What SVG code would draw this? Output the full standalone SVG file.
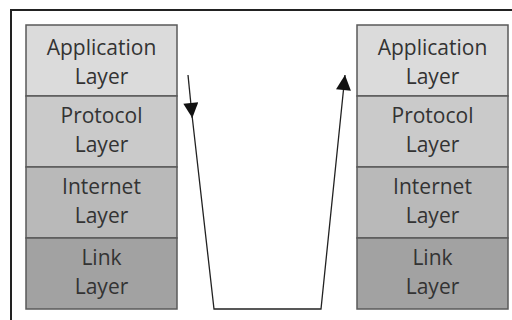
<svg xmlns="http://www.w3.org/2000/svg" width="512" height="320" viewBox="0 0 512 320">
<defs>
<style>
.box{stroke:#5a5a5a;stroke-width:1.5}
.app{fill:#dbdbdb}.proto{fill:#cacaca}.inet{fill:#b9b9b9}.link{fill:#a2a2a2}
text{font-family:"Open Sans",sans-serif;font-size:21px;fill:#333;text-anchor:middle}
.conn{fill:none;stroke:#222;stroke-width:1.3}
</style>
<marker id="ah" viewBox="0 0 10 10" refX="10" refY="5" markerWidth="16" markerHeight="15" markerUnits="userSpaceOnUse" orient="auto">
<path d="M0,0 L10,5 L0,10 z" fill="#111"/>
</marker>
</defs>
<rect width="512" height="320" fill="#ffffff"/>
<path d="M11,320 V10 H512" fill="none" stroke="#222" stroke-width="2"/>
<g id="left-stack">
<g id="l-app"><rect class="box app" x="26" y="25" width="151" height="71"/><text x="101.5" y="55">Application</text><text x="101.5" y="84">Layer</text></g>
<g id="l-proto"><rect class="box proto" x="26" y="96" width="151" height="71"/><text x="101.5" y="123">Protocol</text><text x="101.5" y="152">Layer</text></g>
<g id="l-inet"><rect class="box inet" x="26" y="167" width="151" height="71"/><text x="101.5" y="194">Internet</text><text x="101.5" y="223">Layer</text></g>
<g id="l-link"><rect class="box link" x="26" y="238" width="151" height="71"/><text x="101.5" y="265">Link</text><text x="101.5" y="294">Layer</text></g>
</g>
<g id="right-stack">
<g id="r-app"><rect class="box app" x="357" y="25" width="151" height="71"/><text x="432.5" y="55">Application</text><text x="432.5" y="84">Layer</text></g>
<g id="r-proto"><rect class="box proto" x="357" y="96" width="151" height="71"/><text x="432.5" y="123">Protocol</text><text x="432.5" y="152">Layer</text></g>
<g id="r-inet"><rect class="box inet" x="357" y="167" width="151" height="71"/><text x="432.5" y="194">Internet</text><text x="432.5" y="223">Layer</text></g>
<g id="r-link"><rect class="box link" x="357" y="238" width="151" height="71"/><text x="432.5" y="265">Link</text><text x="432.5" y="294">Layer</text></g>
</g>
<g id="connectors">
<path class="conn" d="M188,75 L192.3,118" marker-end="url(#ah)"/>
<path class="conn" d="M192,115 L214,309 L321,309 L345,75" marker-end="url(#ah)"/>
</g>
</svg>
